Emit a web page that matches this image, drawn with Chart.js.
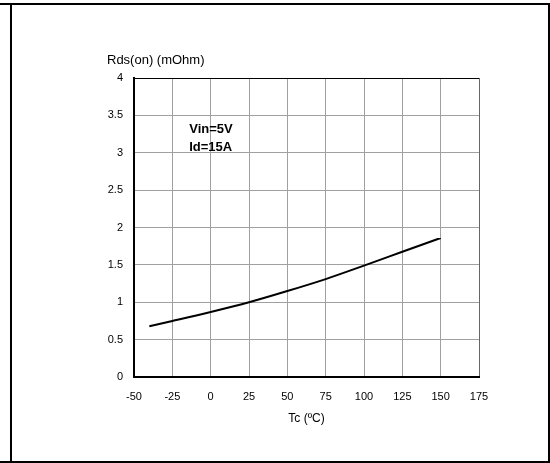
<!DOCTYPE html>
<html>
<head>
<meta charset="utf-8">
<script src="https://cdn.jsdelivr.net/npm/chart.js@4/dist/chart.umd.min.js"></script>
<style>
  html, body { margin: 0; padding: 0; background: #fff; }
  #wrap { width: 550px; height: 463px; position: relative; }
</style>
</head>
<body>
<div id="wrap"><canvas id="c" width="550" height="463"></canvas></div>
<script>
// On-resistance vs. case temperature
const tempC = [-40, -25, 0, 25, 50, 75, 100, 125, 150];
const rdsOn = [0.68, 0.75, 0.87, 1.00, 1.15, 1.31, 1.49, 1.675, 1.86];

// Axis ranges and tick steps
const xRange = [-50, 175];
const xStep = 25;
const yRange = [0, 4];
const yStep = 0.5;

// Text
const yTitle = 'Rds(on) (mOhm)';
const xTitle = 'Tc (ºC)';
const noteLines = ['Vin=5V', 'Id=15A'];
const noteAnchor = { x: -14, y: [3.27, 3.02] };

const FONT = '"Liberation Sans", Arial, Helvetica, sans-serif';
const GRID = '#a0a0a0';

const framePlugin = {
  id: 'frame',
  beforeDraw(chart) {
    const ctx = chart.ctx;
    ctx.save();
    ctx.fillStyle = '#fff';
    ctx.fillRect(0, 0, chart.width, chart.height);
    ctx.restore();
  },
  afterDraw(chart) {
    const ctx = chart.ctx;
    const a = chart.chartArea;
    const xs = chart.scales.x, ys = chart.scales.y;
    ctx.save();
    // outer frame
    ctx.fillStyle = '#000';
    ctx.fillRect(0, 3, 550, 2);
    ctx.fillRect(0, 461, 550, 2);
    ctx.fillRect(10, 3, 2, 460);
    ctx.fillRect(548, 3, 2, 460);

    // axis titles
    ctx.fillStyle = '#000';
    ctx.textBaseline = 'alphabetic';
    ctx.font = '13px ' + FONT;
    ctx.textAlign = 'left';
    ctx.fillText(yTitle, 107, a.top - 14.5);
    ctx.font = '12px ' + FONT;
    ctx.textAlign = 'center';
    ctx.fillText(xTitle, (a.left + a.right) / 2, a.bottom + 45);

    // condition note
    ctx.font = 'bold 13px ' + FONT;
    ctx.textAlign = 'left';
    noteLines.forEach((t, i) => {
      ctx.fillText(t, xs.getPixelForValue(noteAnchor.x), ys.getPixelForValue(noteAnchor.y[i]));
    });
    ctx.restore();
  }
};

new Chart(document.getElementById('c'), {
  type: 'line',
  data: {
    datasets: [{
      data: tempC.map((t, i) => ({ x: t, y: rdsOn[i] })),
      borderColor: '#000',
      borderWidth: 2,
      pointRadius: 0,
      fill: false,
      cubicInterpolationMode: 'monotone'
    }]
  },
  options: {
    responsive: false,
    animation: false,
    devicePixelRatio: 1,
    layout: { padding: { left: 0, right: 71, top: 78, bottom: 0 } },
    plugins: { legend: { display: false }, tooltip: { enabled: false } },
    scales: {
      x: {
        type: 'linear',
        min: xRange[0], max: xRange[1],
        afterFit(s) { s.height = 86; },
        ticks: { stepSize: xStep, padding: 13, color: '#000', font: { family: FONT, size: 11 }, maxRotation: 0 },
        grid: {
          drawTicks: false,
          color: c => (c.tick && c.tick.value === xRange[1]) ? '#666' : GRID,
          lineWidth: 1
        },
        border: { color: '#000', width: 2 }
      },
      y: {
        type: 'linear',
        min: yRange[0], max: yRange[1],
        afterFit(s) { s.width = 134; },
        ticks: {
          stepSize: yStep, padding: 11, color: '#000', font: { family: FONT, size: 11 },
          callback: v => String(v)
        },
        grid: {
          drawTicks: false,
          color: c => (c.tick && c.tick.value === yRange[1]) ? '#000' : GRID,
          lineWidth: 1
        },
        border: { color: '#000', width: 2 }
      }
    }
  },
  plugins: [framePlugin]
});
</script>
</body>
</html>
